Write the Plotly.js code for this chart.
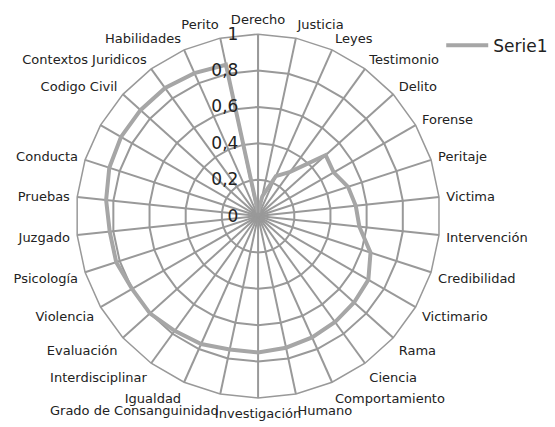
<!DOCTYPE html>
<html>
<head>
<meta charset="utf-8">
<script src="https://cdn.plot.ly/plotly-3.0.1.min.js"></script>
<style>
  html, body { margin: 0; padding: 0; background: #fff; }
  #chart { width: 555px; height: 427px; }
</style>
</head>
<body>
<div id="chart"></div>
<script>
// categories, clockwise from the top (one spoke has no label in the original)
const categorias = [
    'Derecho', 'Justicia', 'Leyes', 'Testimonio', 'Delito', 'Forense', 'Peritaje',
    'Victima', 'Intervención', 'Credibilidad', 'Victimario', 'Rama', 'Ciencia',
    'Comportamiento', 'Humano', 'Investigación', 'Grado de Consanguinidad', 'Igualdad',
    'Interdisciplinar', 'Evaluación', 'Violencia', 'Psicología', 'Juzgado', 'Pruebas',
    'Conducta', ' ', 'Codigo Civil', 'Contextos Juridicos', 'Habilidades', 'Perito'
];

const serie1 = [
    0.02, 0.11, 0.24, 0.30, 0.50, 0.48, 0.52,
    0.54, 0.56, 0.65, 0.70, 0.71, 0.72,
    0.73, 0.74, 0.75, 0.75, 0.77,
    0.78, 0.80, 0.80, 0.82, 0.82, 0.84,
    0.86, 0.87, 0.87, 0.87, 0.86, 0.85
];

const radialTicks = [0, 0.2, 0.4, 0.6, 0.8, 1];
const radialLabels = ['0', '0,2', '0,4', '0,6', '0,8', '1'];

const data = [{
    type: 'scatterpolar',
    r: serie1.concat([serie1[0]]),
    theta: categorias.concat([categorias[0]]),
    mode: 'lines',
    name: 'Serie1',
    line: { color: '#a6a6a6', width: 4 }
}];

const layout = {
    width: 555,
    height: 427,
    margin: { l: 0, r: 0, t: 0, b: 0 },
    paper_bgcolor: '#ffffff',
    font: { family: 'DejaVu Sans, sans-serif', size: 13, color: '#222222' },
    showlegend: true,
    legend: {
        x: 0.795, y: 0.935, xanchor: 'left', yanchor: 'top',
        bgcolor: '#ffffff',
        itemwidth: 42,
        font: { size: 17, color: '#222222' }
    },
    polar: {
        domain: { x: [0.137, 0.793], y: [0.068, 0.920] },
        gridshape: 'linear',
        bgcolor: '#ffffff',
        angularaxis: {
            type: 'category',
            categoryarray: categorias,
            direction: 'clockwise',
            rotation: 90,
            showline: true,
            linecolor: '#999999',
            linewidth: 1.5,
            gridcolor: '#999999',
            gridwidth: 1.5,
            ticks: 'outside',
            ticklen: 4,
            tickcolor: 'rgba(0,0,0,0)',
            tickfont: { size: 13, color: '#222222' }
        },
        radialaxis: {
            range: [0, 1],
            angle: 90,
            side: 'counterclockwise',
            tickangle: 90,
            tickvals: radialTicks,
            ticktext: radialLabels,
            showline: true,
            linecolor: '#999999',
            linewidth: 1.5,
            gridcolor: '#999999',
            gridwidth: 1.5,
            ticks: 'outside',
            ticklen: 13,
            tickcolor: 'rgba(0,0,0,0)',
            tickfont: { size: 17, color: '#222222' }
        }
    }
};

Plotly.newPlot('chart', data, layout, { displayModeBar: false });
</script>
</body>
</html>
